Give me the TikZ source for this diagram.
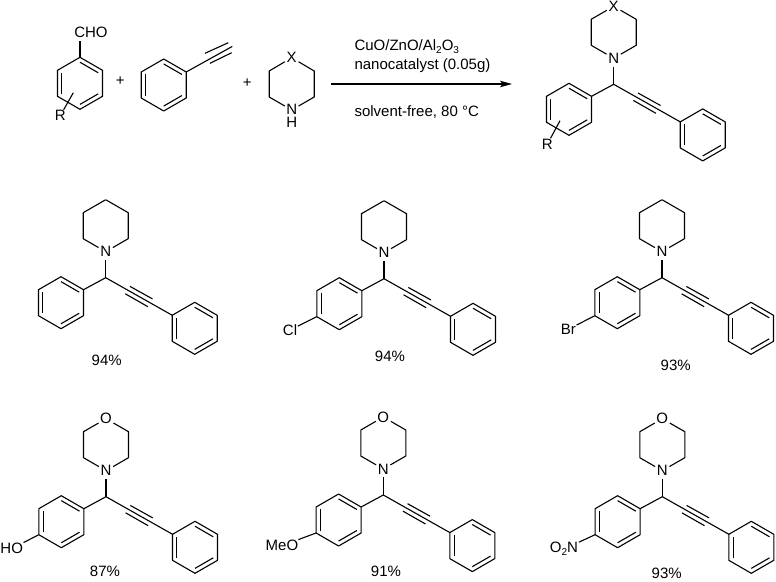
\documentclass[tikz,border=0pt]{standalone}
\usepackage{fontspec}
\setmainfont{Liberation Sans}
\usetikzlibrary{calc,arrows.meta}
\tikzset{
  x=1pt,y=-1pt,
  bond/.style={line width=1.1pt,line join=round,line cap=butt,black},
  atom/.style={circle,inner sep=0.4pt,font=\fontsize{15}{15}\selectfont},
  vertex/.style={circle,inner sep=0pt,minimum size=0pt},
  subst/.style={rectangle,inner sep=0.6pt,font=\fontsize{15}{15}\selectfont},
  plain/.style={rectangle,inner sep=0pt,font=\fontsize{15}{15}\selectfont},
  rxn/.style={plain,anchor=base west},
  plus/.style={plain},
  arrowline/.style={line width=1.1pt,-{Stealth[length=12pt,width=6.5pt,inset=2.5pt]}}
}
\newcommand{\lowered}[1]{\raisebox{-3pt}{\fontsize{10}{10}\selectfont #1}}
% benzene ring: prefix, cx, cy  (1 = top, clockwise)
\newcommand{\benzring}[3]{%
  \begin{scope}[shift={(#2,#3)}]
    \coordinate (#1-c) at (0,0);
    \coordinate (#1-1) at (0,-26);
    \coordinate (#1-2) at (22.5,-13);
    \coordinate (#1-3) at (22.5,13);
    \coordinate (#1-4) at (0,26);
    \coordinate (#1-5) at (-22.5,13);
    \coordinate (#1-6) at (-22.5,-13);
    \draw[bond] (#1-1)--(#1-2)--(#1-3)--(#1-4)--(#1-5)--(#1-6)--cycle;
    \draw[bond] ($(#1-1)!.19!(#1-c)$)--($(#1-2)!.19!(#1-c)$);
    \draw[bond] ($(#1-3)!.19!(#1-c)$)--($(#1-4)!.19!(#1-c)$);
    \draw[bond] ($(#1-5)!.19!(#1-c)$)--($(#1-6)!.19!(#1-c)$);
  \end{scope}}
% product skeleton: prefix, x, y of CH, style of top atom, text of top atom
\newcommand{\propargyl}[5]{%
  \begin{scope}[shift={(#2,#3)}]
    \coordinate (#1-ch) at (0,0);
    \node[atom] (#1-n) at (0,-26) {N};
    \node[#4] (#1-x) at (0,-78) {#5};
    \coordinate (#1-a) at (-22.5,-39);
    \coordinate (#1-b) at (-22.5,-65);
    \coordinate (#1-d) at (22.5,-65);
    \coordinate (#1-e) at (22.5,-39);
    \coordinate (#1-end) at (66.6,37.6);
    \coordinate (#1-t1) at (24.3,8.7);
    \coordinate (#1-t2) at (46.8,21.2);
    \coordinate (#1-t3) at (19.6,16.1);
    \coordinate (#1-t4) at (42.2,29);
  \end{scope}
  \draw[bond] (#1-n)--(#1-a)--(#1-b)--(#1-x)--(#1-d)--(#1-e)--(#1-n);
  \benzring{#1-L}{#2-44.7}{#3+25}
  \benzring{#1-R}{#2+89}{#3+50.6}
  \draw[bond] (#1-n)--(#1-ch);
  \draw[bond] (#1-L-2)--(#1-ch)--(#1-end)--(#1-R-6);
  \draw[bond] (#1-t1)--(#1-t2);
  \draw[bond] (#1-t3)--(#1-t4);}
\begin{document}
\begin{tikzpicture}
\useasboundingbox (0,0) rectangle (776,581);

% --- reagents ---
\benzring{ald}{80}{83.3}
\node[plain] (cho) at (91,32.7) {CHO};
\draw[bond] (ald-1)--(80,40.7);
\coordinate (aldR) at (73.3,92.7);
\node[subst] (aldRn) at (60.3,115.7) {R};
\draw[bond] (aldR)--(aldRn);
\node[plus] (p1) at (120.3,80.7) {+};

\benzring{pa}{163.7}{85}
\coordinate (paend) at (232.3,46.4);
\coordinate (pat1) at (205,53.3);
\coordinate (pat2) at (228.3,42.7);
\coordinate (pat3) at (210,63.3);
\coordinate (pat4) at (231.7,52.7);
\draw[bond] (pa-2)--(paend);
\draw[bond] (pat1)--(pat2);
\draw[bond] (pat3)--(pat4);
\node[plus] (p2) at (247.3,82.7) {+};

\node[atom] (amx) at (291.7,57.7) {X};
\node[circle,inner sep=0pt,minimum size=15.5pt] (amn) at (291.7,110) {};
\node[plain,align=center,font=\fontsize{15}{12.6}\selectfont,anchor=north] (amh) at (291.7,104) {N\\H};
\coordinate (am1) at (269.2,71);
\coordinate (am2) at (269.2,97);
\coordinate (am3) at (314.2,71);
\coordinate (am4) at (314.2,97);
\draw[bond] (amn)--(am2)--(am1)--(amx)--(am3)--(am4)--(amn);

% --- conditions ---
\coordinate (arrS) at (331,84);
\coordinate (arrE) at (512,84);
\draw[arrowline] (arrS)--(arrE);
\node[rxn] (c1) at (354.3,50) {CuO/ZnO/Al\lowered{2}O\lowered{3}};
\node[rxn] (c2) at (354.3,69.5) {nanocatalyst (0.05g)};
\node[rxn] (c3) at (354.3,116) {solvent-free, 80 °C};

% --- general product ---
\propargyl{gp}{613.7}{84.3}{atom}{X}
\coordinate (gpR) at (560,120.7);
\node[subst] (gpRn) at (547.3,144.3) {R};
\draw[bond] (gpR)--(gpRn);

% --- row 2 ---
\propargyl{m1}{105.7}{277.7}{vertex}{}
\node[plain] (y1) at (106.7,360) {94\%};

\propargyl{m2}{384}{278.7}{vertex}{}
\node[subst] (cl) at (290,330) {Cl};
\draw[bond] (cl)--(m2-L-5);
\node[plain] (y2) at (390,356.7) {94\%};

\propargyl{m3}{662}{277.7}{vertex}{}
\node[subst] (br) at (568.3,329.3) {Br};
\draw[bond] (br)--(m3-L-5);
\node[plain] (y3) at (675.7,365) {93\%};

% --- row 3 ---
\propargyl{m4}{106}{496.7}{atom}{O}
\node[subst] (ho) at (11.7,548.7) {HO};
\draw[bond] (ho)--(m4-L-5);
\node[plain] (y4) at (105,571.7) {87\%};

\propargyl{m5}{383.3}{495}{atom}{O}
\node[subst,anchor=east] (meo) at (299,545.7) {MeO};
\draw[bond] (meo)--(m5-L-5);
\node[plain] (y5) at (386,571) {91\%};

\propargyl{m6}{662.3}{496.7}{atom}{O}
\node[subst] (no) at (564,549) {O\lowered{2}N};
\draw[bond] (no)--(m6-L-5);
\node[plain] (y6) at (666.7,573.3) {93\%};
\end{tikzpicture}
\end{document}
